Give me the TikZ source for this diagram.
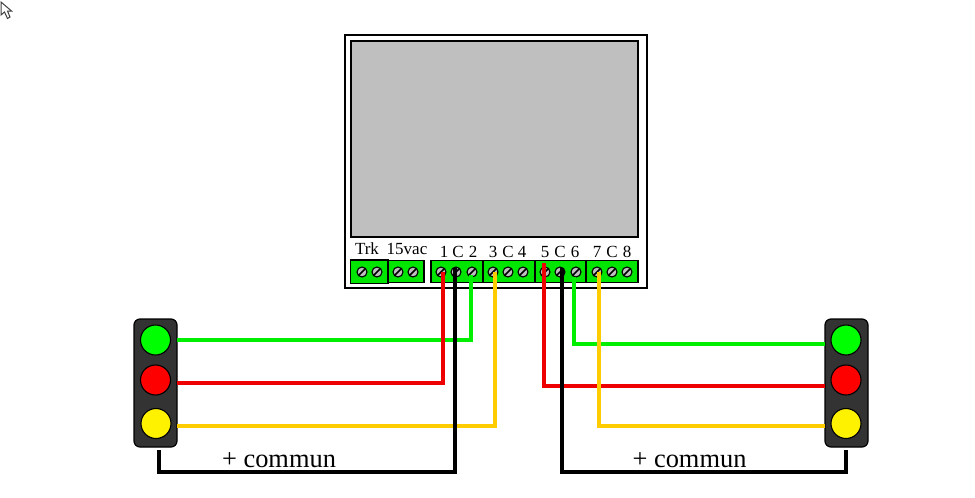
\documentclass[tikz,border=0pt]{standalone}
\usepackage{fontspec}
\setmainfont{Liberation Serif}
\definecolor{wgreen}{HTML}{00EE00}
\definecolor{wred}{HTML}{EE0000}
\definecolor{wyellow}{HTML}{FFCC00}
\definecolor{tgreen}{HTML}{00E600}
\definecolor{housing}{HTML}{333333}
\tikzset{
  every node/.style={outer sep=0pt},
  pcb/.style={draw=black,line width=2pt,fill=white,minimum width=#1,inner sep=0pt,anchor=north west},
  block/.style={draw=black,line width=1.4pt,fill=tgreen,rectangle,inner sep=0pt,anchor=north west,minimum width=#1,minimum height=22pt},
  screw/.style={circle,draw=black,line width=1.1pt,fill=lightgray,minimum size=10pt,inner sep=0pt,
    path picture={\draw[black,line width=1.6pt] (path picture bounding box.south west) -- (path picture bounding box.north east);}},
  term/.style={font=\fontsize{17}{17}\selectfont,anchor=base,inner sep=0pt},
  note/.style={font=\fontsize{26.4}{26.4}\selectfont,anchor=base,inner sep=0pt},
  housingbox/.style={draw=black,line width=1.2pt,fill=housing,rounded corners=6pt,minimum width=43pt,minimum height=128pt,inner sep=0pt},
  lamp/.style={circle,draw=black,line width=1.1pt,fill=#1,minimum size=30pt,inner sep=0pt},
  wire/.style={line width=4pt,draw=#1,line join=miter},
  cursor/.style={draw=black!75,line width=1pt,fill=white,line join=miter}
}
\begin{document}
\begin{tikzpicture}[x=1pt,y=-1pt]
\useasboundingbox (0,0) rectangle (975,498);
\fill[white] (0,0) rectangle (975,498);
\draw[cursor] (1,2) -- (1,15) -- (4.5,12) -- (7.5,18.5) -- (10,17) -- (7.5,11) -- (11.5,11) -- cycle;

% controller
\node[pcb=302pt,minimum height=253pt] (board) at (345,35) {};
\node[draw=black,line width=2pt,fill=lightgray,minimum width=287pt,minimum height=196pt,inner sep=0pt,anchor=north west] (screen) at (351,41) {};

% terminal blocks
\node[block=38pt,minimum height=23.5pt] (bTrk) at (350.5,260) {};
\node[block=36pt] (bVac) at (388,260.5) {};
\node[block=52pt] (bA) at (431,260.5) {};
\node[block=52pt] (bB) at (483,260.5) {};
\node[block=51pt] (bC) at (535,260.5) {};
\node[block=52pt] (bD) at (586,260.5) {};

\foreach \n/\x in {a/362,b/377,c/398,d/413,t1/441,tc1/456,t2/472,t3/493,tc2/508,t4/523,t5/545,tc3/560,t6/576,t7/597,tc4/612,t8/627}
  \node[screw] (\n) at (\x,272) {};

% labels
\node[term] (lTrk) at (367,254) {Trk};
\node[term] (lVac) at (407,254) {15vac};
\foreach \n/\x/\s in {n1/444/1,nc1/458/C,n2/473/2,n3/493/3,nc2/508/C,n4/522/4,n5/545/5,nc3/560/C,n6/575/6,n7/597/7,nc4/612/C,n8/627/8}
  \node[term] (\n) at (\x,257) {\s};

% traffic lights
\node[housingbox,anchor=north west] (hL) at (134,319) {};
\node[lamp=green] (gL) at (155.5,340) {};
\node[lamp=red] (rL) at (155.5,380) {};
\node[lamp=yellow] (yL) at (156,423.5) {};
\node[housingbox,anchor=north west] (hR) at (825,319) {};
\node[lamp=green] (gR) at (846,340) {};
\node[lamp=red] (rR) at (846,380) {};
\node[lamp=yellow] (yR) at (846,423.5) {};

% wire free ends
\coordinate (sGL) at (177,340);
\coordinate (sRL) at (177,382.5);
\coordinate (sYL) at (177,426);
\coordinate (sKL) at (158.5,450);
\coordinate (eRL) at (443,272);
\coordinate (eKL) at (455,268);
\coordinate (eGL) at (470.5,275);
\coordinate (eYL) at (495,272);
\coordinate (sGR) at (825,344);
\coordinate (sRR) at (825,386);
\coordinate (sYR) at (825,426);
\coordinate (sKR) at (846,450);
\coordinate (eRR) at (544,263);
\coordinate (eKR) at (562,268);
\coordinate (eGR) at (574,277);
\coordinate (eYR) at (599,272);

% wires
\draw[wire=wgreen] (sGL) -| (eGL);
\draw[wire=wred] (sRL) -| (eRL);
\draw[wire=wyellow] (sYL) -| (eYL);
\draw[wire=black] (sKL) |- (455,471.5) -- (eKL);
\draw[wire=wgreen] (sGR) -| (eGR);
\draw[wire=wred] (sRR) -| (eRR);
\draw[wire=wyellow] (sYR) -| (eYR);
\draw[wire=black] (sKR) |- (562,471.5) -- (eKR);

\node[note] (cL) at (279,467.5) {+ commun};
\node[note] (cR) at (689.5,467.5) {+ commun};
\end{tikzpicture}
\end{document}
